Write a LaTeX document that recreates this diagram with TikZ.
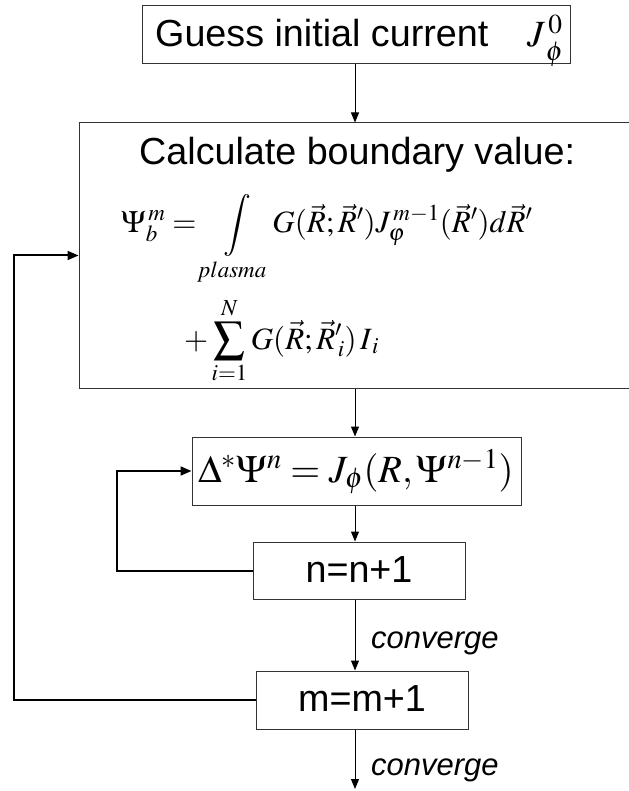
\documentclass[tikz,border=0pt]{standalone}
\usepackage{mathptmx}
\usepackage[no-math]{fontspec}
\newfontfamily\arial{Liberation Sans}
\usetikzlibrary{arrows.meta,calc}
\tikzset{
  box/.style={draw=black!80, line width=1pt, fill=white, inner sep=0pt},
  txt/.style={inner sep=0pt, anchor=base west, font=\arial\fontsize{37.7}{44}\selectfont},
  lbl/.style={inner sep=0pt, anchor=base west, font=\arial\itshape\fontsize{31}{36}\selectfont},
  mth/.style={inner sep=0pt, anchor=base west},
  arr/.style={line width=1pt, -{Triangle[length=10pt,width=8pt]}},
  fb/.style={line width=2pt, -{Triangle[length=11pt,width=9pt]}}
}
\begin{document}
\begin{tikzpicture}[x=1pt,y=-1pt]
\useasboundingbox (0,0) rectangle (628,791);
% boxes
\node[box, minimum width=428pt, minimum height=58pt] (box1) at (356,35) {};
\node[box, minimum width=551pt, minimum height=265pt] (box2) at (354.5,255.5) {};
\node[box, minimum width=329pt, minimum height=68pt] (box3) at (356.5,471) {};
\node[box, minimum width=212pt, minimum height=57pt] (box4) at (359,570.5) {};
\node[box, minimum width=212pt, minimum height=58pt] (box5) at (362,700) {};
% texts
\node[txt] (t1) at (155,47) {Guess initial current};
\node[mth] (j0) at (527,47) {\fontsize{37}{42}\selectfont$J^{\,0}_{\,\phi\vphantom{|}}$};
\node[txt] (t2) at (139,165) {Calculate boundary value:};
\node[mth] (eq1) at (121,233) {\fontsize{31}{36}\selectfont$\displaystyle \Psi_b^{\,m} = \int\limits_{plasma}\! G(\vec{R};\vec{R}')J_{\varphi}^{\,m-1}(\vec{R}')d\vec{R}'$};
\node[mth] (eq2) at (184,349) {\fontsize{31}{36}\selectfont$\displaystyle +\sum_{i=1}^{N} G(\vec{R};\vec{R}_{\,i}')\,I_{\,i}$};
\node[mth] (eq3) at (198,482) {\fontsize{38.5}{44}\selectfont$\Delta^{*}\Psi^{n} = J_{\phi}(R,\Psi^{n-1})$};
\node[txt, anchor=center] (t4) at ([yshift=1pt]box4.center) {n=n+1};
\node[txt, anchor=center] (t5) at ([yshift=1pt]box5.center) {m=m+1};
\node[lbl] (c1) at (371,648) {converge};
\node[lbl] (c2) at (371,775) {converge};
% helper coordinates
\coordinate (ax) at (355,0);
\coordinate (lx) at (14,0);
\coordinate (ix) at (117,0);
\coordinate (endp) at (355,789);
% connectors
\draw[arr] (box1.south -| ax) -- (box2.north -| ax);
\draw[arr] (box2.south -| ax) -- (box3.north -| ax);
\draw[arr] (box3.south -| ax) -- (box4.north -| ax);
\draw[arr] (box4.south -| ax) -- (box5.north -| ax);
\draw[arr] (box5.south -| ax) -- (endp);
\draw[fb] (box4.west) -| (ix |- box3.west) -- (box3.west);
\draw[fb] (box5.west) -| (lx |- box2.west) -- (box2.west);
\end{tikzpicture}
\end{document}
